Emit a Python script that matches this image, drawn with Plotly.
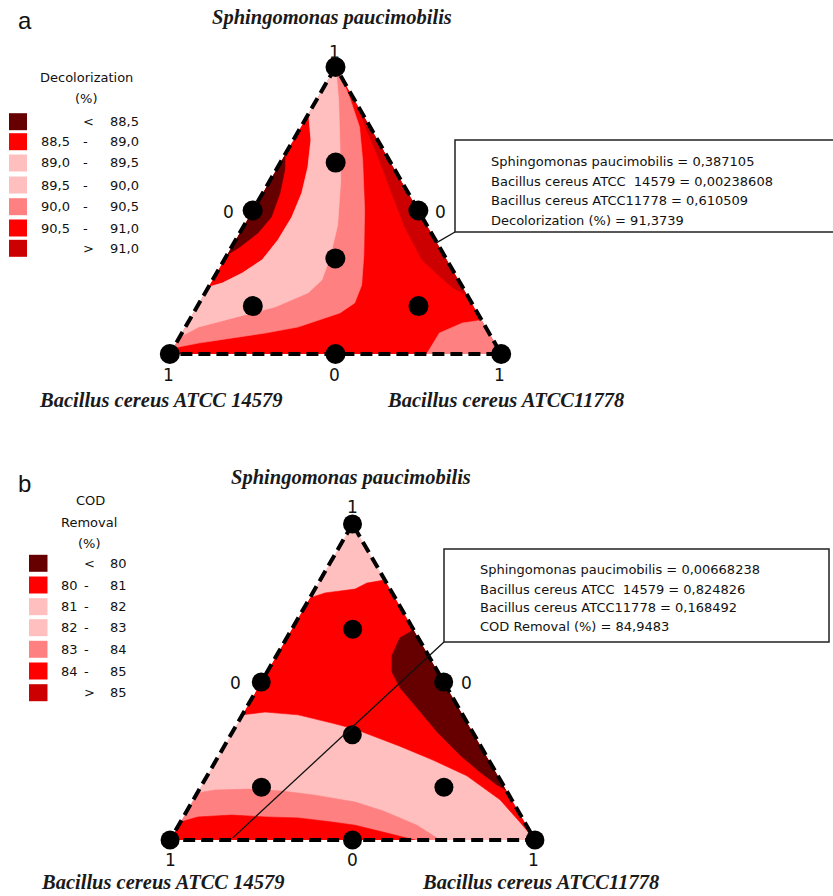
import math
import plotly.graph_objects as go

W, H = 833, 896

# Ternary components: a = Sphingomonas paucimobilis, b = Bacillus cereus ATCC 14579, c = Bacillus cereus ATCC11778
design_a = [1, 0, 0, 0.5, 0.5, 0, 0.333, 0.667, 0.167, 0.167]
design_c = [0, 0, 1, 0, 0.5, 0.5, 0.333, 0.167, 0.167, 0.667]

# ---- Panel a: Decolorization (%) contour boundaries, (a, c) pairs ----
dec_band_edge = [(0.833, 0.0), (0.833, 0.003), (0.746, 0.053), (0.652, 0.091), (0.561, 0.118),
                 (0.477, 0.130), (0.397, 0.128), (0.328, 0.115), (0.282, 0.078), (0.247, 0.035),
                 (0.233, 0.0)]
dec_pink_edge = [(0.059, 0.0), (0.094, 0.040), (0.125, 0.126), (0.164, 0.236), (0.213, 0.311),
                 (0.258, 0.330), (0.334, 0.316), (0.449, 0.282), (0.606, 0.213), (0.746, 0.140),
                 (0.885, 0.067), (0.972, 0.017), (1.0, 0.0)]
dec_salmon_edge = [(0.021, 0.0), (0.038, 0.068), (0.056, 0.161), (0.073, 0.252), (0.094, 0.340),
                   (0.143, 0.442), (0.178, 0.469), (0.240, 0.459), (0.345, 0.413), (0.502, 0.337),
                   (0.676, 0.244), (0.791, 0.177), (0.895, 0.095), (0.969, 0.031), (1.0, 0.0)]
dec_low_lens = [(0.695, 0.0), (0.645, 0.025), (0.561, 0.052), (0.477, 0.068), (0.422, 0.055),
                (0.373, 0.025), (0.345, 0.0)]
dec_high_edge = [(0.860, 0.140), (0.791, 0.195), (0.676, 0.294), (0.561, 0.389), (0.443, 0.487),
                 (0.328, 0.597), (0.268, 0.682), (0.230, 0.740), (0.205, 0.795)]
dec_corner_patch = [(0.0, 0.775), (0.073, 0.777), (0.108, 0.829), (0.118, 0.882), (0.0, 1.0)]

# ---- Panel b: COD Removal (%) contour boundaries, (a, c) pairs ----
cod_red_top = [(0.766, 0.0), (0.782, 0.034), (0.794, 0.110), (0.813, 0.133), (0.823, 0.177)]
cod_red_bottom = [(0.0, 1.0), (0.057, 0.930), (0.127, 0.841), (0.203, 0.712), (0.253, 0.594),
                  (0.297, 0.481), (0.351, 0.331), (0.370, 0.259), (0.396, 0.153), (0.405, 0.058),
                  (0.396, 0.0)]
cod_low_blob = [(0.665, 0.335), (0.639, 0.310), (0.585, 0.316), (0.532, 0.342), (0.481, 0.390),
                (0.418, 0.468), (0.342, 0.561), (0.269, 0.660), (0.215, 0.742), (0.174, 0.809),
                (0.158, 0.842)]
cod_salmon_top = [(0.149, 0.0), (0.158, 0.044), (0.161, 0.133), (0.155, 0.229), (0.142, 0.326),
                  (0.120, 0.447), (0.092, 0.538), (0.047, 0.653), (0.0, 0.740), (0.0, 0.0)]
cod_red_strip = [(0.057, 0.0), (0.073, 0.040), (0.079, 0.130), (0.073, 0.224), (0.070, 0.316),
                 (0.057, 0.415), (0.047, 0.483), (0.025, 0.571), (0.0, 0.671), (0.0, 0.0)]

# ---- Legends ----
dec_legend_lo = ["", "88,5", "89,0", "89,5", "90,0", "90,5", ""]
dec_legend_hi = ["88,5", "89,0", "89,5", "90,0", "90,5", "91,0", "91,0"]
dec_legend_sep = ["<", "-", "-", "-", "-", "-", ">"]
cod_legend_lo = ["", "80", "81", "82", "83", "84", ""]
cod_legend_hi = ["80", "81", "82", "83", "84", "85", "85"]
cod_legend_sep = ["<", "-", "-", "-", "-", "-", ">"]
legend_colors = ["#660000", "#FF0000", "#FFBFBF", "#FFBFBF", "#FF8080", "#FF0000", "#CC0000"]

# ---- Optimum read-outs ----
dec_opt = dict(a=0.387105, b=0.00238608, c=0.610509, y=91.3739)
cod_opt = dict(a=0.00668238, b=0.824826, c=0.168492, y=84.9483)

C_MAROON, C_RED, C_PINK, C_SALMON, C_DKRED = "#660000", "#FF0000", "#FFBFBF", "#FF8080", "#CC0000"

SANS = "DejaVu Sans"
SERIF = "Liberation Serif"

fig = go.Figure()


def poly(pts, color, subplot):
    a = [p[0] for p in pts]
    c = [p[1] for p in pts]
    b = [1 - x - y for x, y in pts]
    fig.add_trace(go.Scatterternary(
        a=a, b=b, c=c, mode="lines", fill="toself", fillcolor=color,
        line=dict(width=0.6, color=color), hoverinfo="skip", showlegend=False,
        subplot=subplot))


TRI = [(1.0, 0.0), (0.0, 0.0), (0.0, 1.0), (1.0, 0.0)]

# Panel a fills (painter's order)
poly(TRI, C_RED, "ternary")
poly([(1.0, 0.0)] + dec_band_edge + dec_salmon_edge, C_SALMON, "ternary")
poly([(1.0, 0.0)] + dec_band_edge + dec_pink_edge, C_PINK, "ternary")
poly(dec_low_lens, C_MAROON, "ternary")
poly(dec_high_edge, C_DKRED, "ternary")
poly(dec_corner_patch, C_SALMON, "ternary")

# Panel b fills
poly(TRI, C_PINK, "ternary2")
poly(cod_red_top + cod_red_bottom, C_RED, "ternary2")
poly(cod_low_blob, C_MAROON, "ternary2")
poly(cod_salmon_top, C_SALMON, "ternary2")
poly(cod_red_strip, C_RED, "ternary2")

for sp, msize in (("ternary", 20), ("ternary2", 19)):
    fig.add_trace(go.Scatterternary(
        a=design_a, c=design_c, b=[1 - x - y for x, y in zip(design_a, design_c)],
        mode="markers", marker=dict(size=msize, color="black"), cliponaxis=False,
        hoverinfo="skip", showlegend=False, subplot=sp))

axis_off = dict(showline=False, showgrid=False, showticklabels=False, ticks="",
                title=dict(text=""), min=0)

DOM_A = (169, 502, 67, 354)   # x0, x1, ytop, ybottom in px
DOM_B = (170, 535, 524, 840)


def dom(d):
    return dict(x=[d[0] / W, d[1] / W], y=[1 - d[3] / H, 1 - d[2] / H])


fig.update_layout(
    width=W, height=H, autosize=False,
    margin=dict(l=0, r=0, t=0, b=0, pad=0),
    paper_bgcolor="white", plot_bgcolor="white",
    showlegend=False,
    ternary=dict(domain=dom(DOM_A), sum=1, aaxis=axis_off, baxis=axis_off, caxis=axis_off,
                 bgcolor="rgba(0,0,0,0)"),
    ternary2=dict(domain=dom(DOM_B), sum=1, aaxis=axis_off, baxis=axis_off, caxis=axis_off,
                  bgcolor="rgba(0,0,0,0)"),
)


def tern_px(d, a, c):
    x0, x1, y0, y1 = d
    w = min(x1 - x0, (y1 - y0) * 2 / math.sqrt(3))
    h = w * math.sqrt(3) / 2
    left = (x0 + x1) / 2 - w / 2
    bottom = (y0 + y1) / 2 + h / 2
    return left + w * (c + a / 2), bottom - h * a


annotations = []
shapes = []

# Dashed triangle borders (drawn over the fills; the black design dots hide overlaps)
for d in (DOM_A, DOM_B):
    pts = [tern_px(d, 1, 0), tern_px(d, 0, 0), tern_px(d, 0, 1)]
    path = "M " + " L ".join("%.5f,%.5f" % (x / W, 1 - y / H) for x, y in pts) + " Z"
    shapes.append(dict(type="path", xref="paper", yref="paper", path=path, layer="above",
                       line=dict(color="black", width=4, dash="12px,6px")))


def ann(x, y, text, size=13, family=SANS, xanchor="center", color="#111111"):
    annotations.append(dict(
        x=x / W, y=1 - y / H, xref="paper", yref="paper", text=text, showarrow=False,
        xanchor=xanchor, yanchor="middle", font=dict(size=size, family=family, color=color)))


def title(x, y, text):
    ann(x, y, "<b><i>" + text + "</i></b>", size=20.5, family=SERIF, color="#1a1a1a")


# Panel letters
ann(16, 20, "a", size=24, family="Liberation Sans", xanchor="left")
ann(16, 483, "b", size=24, family="Liberation Sans", xanchor="left")

# Axis titles
title(332, 18, "Sphingomonas paucimobilis")
title(160, 400, "Bacillus cereus ATCC 14579")
title(505, 400, "Bacillus cereus ATCC11778")
title(351, 477, "Sphingomonas paucimobilis")
title(162, 882, "Bacillus cereus ATCC 14579")
title(540, 882, "Bacillus cereus ATCC11778")

# Vertex / edge labels
for (x, y, t) in [(334, 52, "1"), (228, 212, "0"), (440, 212, "0"),
                  (168, 375, "1"), (334, 375, "0"), (500, 375, "1"),
                  (352, 507, "1"), (235, 683, "0"), (466, 683, "0"),
                  (170, 860, "1"), (352, 860, "0"), (533, 860, "1")]:
    ann(x, y, t, size=17)

# Legend a
ann(86, 77, "Decolorization")
ann(86, 99, "(%)")
rows_a = [121.7, 141.7, 163, 185, 206.7, 228, 248.3]
for i, yy in enumerate(rows_a):
    shapes.append(dict(type="rect", xref="paper", yref="paper", x0=9 / W, x1=27 / W,
                       y0=1 - (yy + 8.5) / H, y1=1 - (yy - 8.5) / H,
                       fillcolor=legend_colors[i], line=dict(width=0)))
    if dec_legend_lo[i]:
        ann(39, yy, dec_legend_lo[i], xanchor="left")
        ann(85, yy, dec_legend_sep[i])
    else:
        ann(88, yy, dec_legend_sep[i])
    ann(108, yy, dec_legend_hi[i], xanchor="left")

# Legend b
ann(90, 500, "COD")
ann(89, 522, "Removal")
ann(89, 543, "(%)")
rows_b = [563.3, 585, 606.7, 627.7, 649.3, 671, 692.7]
for i, yy in enumerate(rows_b):
    shapes.append(dict(type="rect", xref="paper", yref="paper", x0=29 / W, x1=47.5 / W,
                       y0=1 - (yy + 8.5) / H, y1=1 - (yy - 8.5) / H,
                       fillcolor=legend_colors[i], line=dict(width=0)))
    if cod_legend_lo[i]:
        ann(59, yy, cod_legend_lo[i], xanchor="left")
        ann(86, yy, cod_legend_sep[i])
    else:
        ann(89, yy, cod_legend_sep[i])
    ann(108, yy, cod_legend_hi[i], xanchor="left")


def fmt(v):
    return ("%g" % v).replace(".", ",")


# Read-out boxes
def readout(box, lines, line_y, opt, d):
    bx0, bx1, by0, by1 = box
    shapes.append(dict(type="rect", xref="paper", yref="paper", x0=bx0 / W, x1=bx1 / W,
                       y0=1 - by1 / H, y1=1 - by0 / H, fillcolor="rgba(0,0,0,0)",
                       line=dict(color="#222222", width=1.5)))
    tx, ty = tern_px(d, opt["a"], opt["c"])
    shapes.append(dict(type="line", xref="paper", yref="paper", x0=bx0 / W, y0=1 - by1 / H,
                       x1=tx / W, y1=1 - ty / H, line=dict(color="#111111", width=1.3)))
    for t, yy in zip(lines, line_y):
        ann(bx0 + 33.5, yy, t, xanchor="left")


readout((455, 845, 140, 232),
        ["Sphingomonas paucimobilis = " + "0,387105",
         "Bacillus cereus ATCC  14579 = " + fmt(dec_opt["b"]),
         "Bacillus cereus ATCC11778 = " + fmt(dec_opt["c"]),
         "Decolorization (%) = " + fmt(dec_opt["y"])],
        [161.7, 181.7, 200.5, 220], dec_opt, DOM_A)
readout((444, 829, 549, 642),
        ["Sphingomonas paucimobilis = " + fmt(cod_opt["a"]),
         "Bacillus cereus ATCC  14579 = " + fmt(cod_opt["b"]),
         "Bacillus cereus ATCC11778 = " + fmt(cod_opt["c"]),
         "COD Removal (%) = " + fmt(cod_opt["y"])],
        [569.3, 589.3, 607.7, 626.7], cod_opt, DOM_B)

fig.update_layout(annotations=annotations, shapes=shapes)
fig.write_html("out.html")
